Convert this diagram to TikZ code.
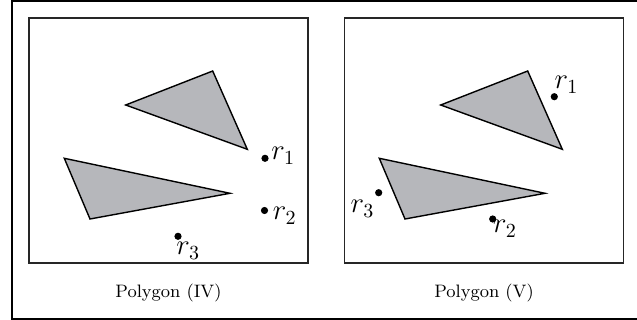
\documentclass[tikz,border=0pt]{standalone}
\usepackage{tikz}
\usetikzlibrary{positioning}
\definecolor{shade}{RGB}{182,183,187}
\tikzset{
  panel/.style={draw=black!85,line width=0.7pt,minimum width=139.5pt,minimum height=122.5pt,inner sep=0pt},
  poly/.style={draw=black,fill=shade,line width=0.7pt,line join=miter},
  site/.style={circle,fill=black,inner sep=0pt,minimum size=3.6pt},
  lab/.style={font=\Large,inner sep=0pt},
  captext/.style={font=\small,inner sep=0pt},
}
\begin{document}
\begin{tikzpicture}[x=0.5pt,y=-0.5pt]
  \useasboundingbox (0,0) rectangle (637,320);
  \draw[line width=1pt] (11.5,1) rectangle (640,319);
  % the two panels
  \node[panel] (pL) at (168.5,140.5) {};
  \node[panel] (pR) at (484,140.5) {};
  \foreach \dx in {0,315}{
    \filldraw[poly] (125.7+\dx,105) -- (212.7+\dx,71) -- (247.3+\dx,149.3) -- cycle;
    \filldraw[poly] (64.3+\dx,158.3) -- (230+\dx,193.3) -- (90+\dx,219) -- cycle;}
  \node[captext,below=10pt of pL] (cL) {Polygon (IV)};
  \node[captext,below=10pt of pR] (cR) {Polygon (V)};
  % sites, left
  \node[site] (r1L) at (265,158.3) {};
  \node[site] (r2L) at (264.5,210.5) {};
  \node[site] (r3L) at (178,236.3) {};
  \node[lab,anchor=base west] (t1L) at ([shift={(6,1.5)}]r1L) {$r_1$};
  \node[lab,anchor=base west] (t2L) at ([shift={(8,9.5)}]r2L) {$r_2$};
  \node[lab,anchor=base west] (t3L) at ([shift={(-2,18.5)}]r3L) {$r_3$};
  % sites, right
  \node[site] (r1R) at (554.3,96.7) {};
  \node[site] (r2R) at (492.7,219) {};
  \node[site] (r3R) at (378.7,192.7) {};
  \node[lab,anchor=base west] (t1R) at ([shift={(0,-8)}]r1R) {$r_1$};
  \node[lab,anchor=base west] (t2R) at ([shift={(0,14)}]r2R) {$r_2$};
  \node[lab,anchor=base east] (t3R) at ([shift={(-4,20)}]r3R) {$r_3$};
\end{tikzpicture}
\end{document}
